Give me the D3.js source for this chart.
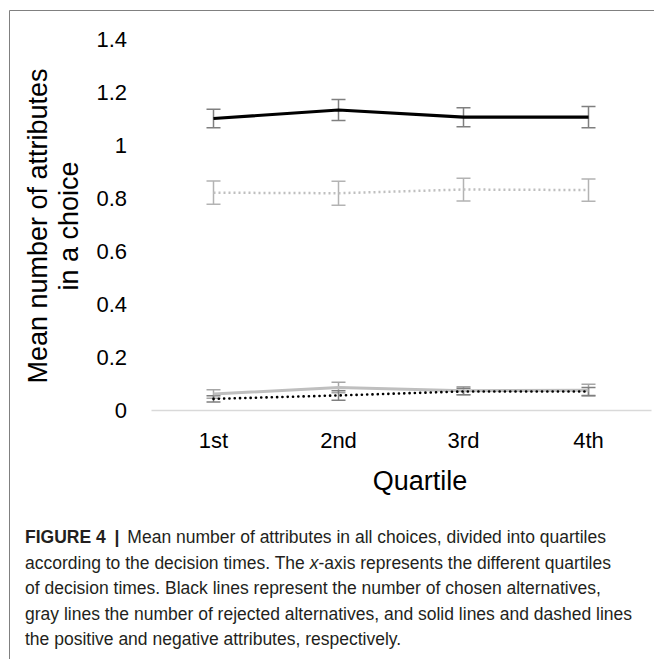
<!DOCTYPE html>
<html>
<head>
<meta charset="utf-8">
<script src="https://cdn.jsdelivr.net/npm/d3@7"></script>
<style>
  body { margin: 0; background: #fff; }
  svg { display: block; }
  .tick text { font-family: "Liberation Sans", Arial, sans-serif; }
</style>
</head>
<body>
<div id="chart"></div>
<script>
// data
const quartiles = ['1st', '2nd', '3rd', '4th']
const yTicks = [0, 0.2, 0.4, 0.6, 0.8, 1, 1.2, 1.4]
const yTickLabels = ['0', '0.2', '0.4', '0.6', '0.8', '1', '1.2', '1.4']

const chosenPos = [1.100, 1.132, 1.105, 1.105]      // black solid
const chosenPosErr = [0.035, 0.040, 0.036, 0.040]
const rejectedNeg = [0.820, 0.818, 0.832, 0.830]    // gray dotted
const rejectedNegErr = [0.044, 0.045, 0.043, 0.042]
const rejectedPos = [0.060, 0.085, 0.073, 0.075]    // gray solid
const rejectedPosErr = [0.016, 0.020, 0.015, 0.022]
const chosenNeg = [0.042, 0.055, 0.070, 0.070]      // black dotted
const chosenNegErr = [0.012, 0.018, 0.012, 0.015]

const captionLines = [
    'according to the decision times. The ',
    'of decision times. Black lines represent the number of chosen alternatives,',
    'gray lines the number of rejected alternatives, and solid lines and dashed lines',
    'the positive and negative attributes, respectively.'
]

const W = 654, H = 659

const svg = d3.select('#chart')
    .append('svg')
    .attr('width', W)
    .attr('height', H)

svg.append('rect').attr('width', W).attr('height', H).attr('fill', '#fff')

// frame of the figure box
svg.append('path')
    .attr('d', `M9.5,${H} V10.5 H${W}`)
    .attr('fill', 'none')
    .attr('stroke', '#808080')
    .attr('stroke-width', 1)

const xScale = d3.scaleBand().domain(quartiles).range([151, 651])
const yScale = d3.scaleLinear().domain([0, 1.4]).range([410, 39])
const cx = q => xScale(q) + xScale.bandwidth() / 2

//y axis (labels only)
const yaxis = d3.axisLeft(yScale)
    .tickValues(yTicks)
    .tickSize(0)
    .tickPadding(24)
    .tickFormat((d, i) => yTickLabels[i])
svg.append('g')
    .attr('transform', 'translate(151,0)')
    .call(yaxis)
    .call(g => g.select('.domain').remove())
    .selectAll('text')
    .style('font-size', '22px')
    .attr('fill', '#000')

//x axis
const xaxis = d3.axisBottom(xScale).tickSize(0).tickPadding(22)
svg.append('g')
    .attr('transform', 'translate(0,410)')
    .call(xaxis)
    .call(g => g.select('.domain').attr('stroke', '#d9d9d9').attr('stroke-width', 1.5))
    .selectAll('text')
    .style('font-size', '22px')
    .attr('fill', '#000')

//axis titles
svg.append('text')
    .attr('x', 420)
    .attr('y', 490)
    .attr('text-anchor', 'middle')
    .style('font-family', '"Liberation Sans", Arial, sans-serif')
    .style('font-size', '27px')
    .text('Quartile')

const ytitle = svg.append('text')
    .attr('transform', 'translate(47,226) rotate(-90)')
    .attr('text-anchor', 'middle')
    .style('font-family', '"Liberation Sans", Arial, sans-serif')
    .style('font-size', '27px')
ytitle.append('tspan').attr('x', 0).attr('y', 0).text('Mean number of attributes')
ytitle.append('tspan').attr('x', 0).attr('y', 31).text('in a choice')

// series: values, errors, style
const series = [
    { vals: rejectedPos, err: rejectedPosErr, color: '#bfbfbf', errColor: '#a6a6a6', width: 3, dash: null, cap: 'butt' },
    { vals: rejectedNeg, err: rejectedNegErr, color: '#bfbfbf', errColor: '#b3b3b3', width: 2.5, dash: '2,3', cap: 'butt' },
    { vals: chosenPos, err: chosenPosErr, color: '#000', errColor: '#7f7f7f', width: 3.2, dash: null, cap: 'butt' },
    { vals: chosenNeg, err: chosenNegErr, color: '#000', errColor: '#7f7f7f', width: 2.6, dash: '0.1,5.2', cap: 'round' }
]

const line = d3.line()
    .x((d, i) => cx(quartiles[i]))
    .y(d => yScale(d))

// error bars first, lines on top
series.forEach(s => {
    const eb = svg.append('g')
        .attr('stroke', s.errColor)
        .attr('stroke-width', 1.5)
        .attr('fill', 'none')
    s.vals.forEach((v, i) => {
        const x = cx(quartiles[i])
        const y0 = yScale(v - s.err[i]), y1 = yScale(v + s.err[i])
        eb.append('path')
            .attr('d', `M${x},${y0} V${y1} M${x - 7},${y0} H${x + 7} M${x - 7},${y1} H${x + 7}`)
    })
})

series.forEach(s => {
    svg.append('path')
        .datum(s.vals)
        .attr('fill', 'none')
        .attr('stroke', s.color)
        .attr('stroke-width', s.width)
        .attr('stroke-linejoin', 'round')
        .attr('stroke-linecap', s.cap)
        .attr('stroke-dasharray', s.dash)
        .attr('d', line)
})

//caption
const capFont = '"Liberation Sans", Arial, sans-serif'
const cap = svg.append('text')
    .attr('x', 25)
    .style('font-family', capFont)
    .style('font-size', '17.5px')
    .attr('fill', '#231f20')

const l1 = cap.append('tspan').attr('x', 25).attr('y', 543)
l1.append('tspan').style('font-weight', 'bold').text('FIGURE 4')
l1.append('tspan').style('font-weight', 'bold').attr('dx', 4).text(' | ')
l1.append('tspan').attr('dx', 3).text('Mean number of attributes in all choices, divided into quartiles')

const l2 = cap.append('tspan').attr('x', 25).attr('y', 568.5)
l2.append('tspan').text(captionLines[0])
l2.append('tspan').style('font-style', 'italic').text('x')
l2.append('tspan').text('-axis represents the different quartiles')

captionLines.slice(1).forEach((t, i) => {
    cap.append('tspan').attr('x', 25).attr('y', 594 + i * 25.5).text(t)
})
</script>
</body>
</html>
